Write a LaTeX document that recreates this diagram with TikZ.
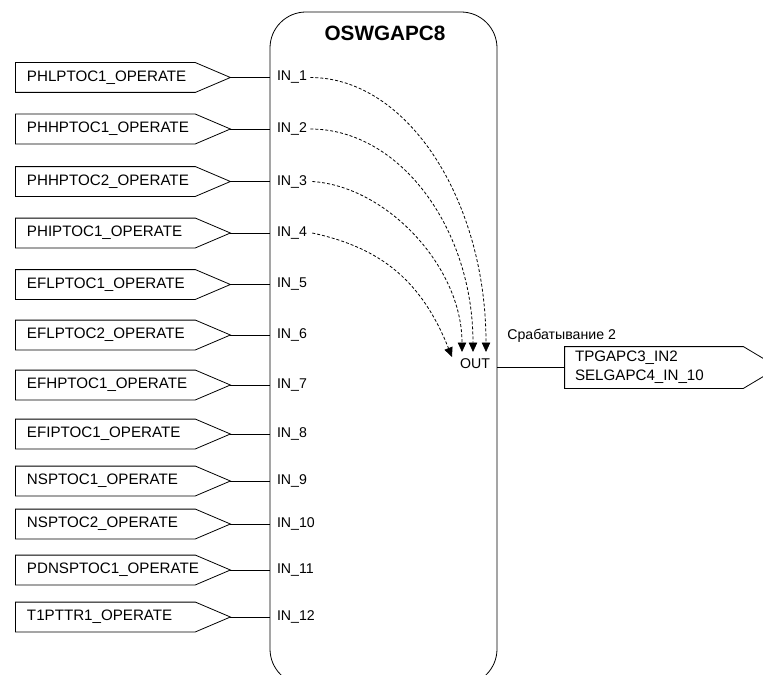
\documentclass[tikz,border=0pt]{standalone}
\usepackage{fontspec}
\setmainfont{Liberation Sans}
\usetikzlibrary{arrows.meta,calc}
\begin{document}
\begin{tikzpicture}[x=1bp,y=-1bp,line width=0.8bp,
  txt/.style={font=\fontsize{14.2}{16}\selectfont},
  boxtxt/.style={font=\fontsize{15.2}{17}\selectfont},
  inbox/.style={boxtxt,minimum width=179bp,minimum height=29bp,inner xsep=11bp,inner ysep=0pt,
    text width=157bp,align=left},
  outbox/.style={font=\fontsize{15.2}{19}\selectfont,minimum width=178bp,minimum height=41bp,
    inner xsep=10bp,inner ysep=0pt,text width=158bp,align=left},
  pinlabel/.style={txt,inner sep=0pt,anchor=west},
  flow/.style={dash pattern=on 3bp off 2bp,-{Triangle[length=9.5bp,width=8.5bp]}},
  fblock/.style={draw,rounded corners=36bp,minimum width=227bp,minimum height=673bp,inner sep=0pt}]
\clip (0,0) rectangle (763,675);

% function block
\node[fblock] (blk) at (383.5,348.5) {};
\node[font=\fontsize{20.8}{24}\selectfont\bfseries] (title) at (385,33) {OSWGAPC8};

% input signals
\foreach \i/\y/\t in {1/77.5/PHLPTOC1\_OPERATE,2/129/PHHPTOC1\_OPERATE,3/181.5/PHHPTOC2\_OPERATE,
  4/233/PHIPTOC1\_OPERATE,5/284.5/EFLPTOC1\_OPERATE,6/335/EFLPTOC2\_OPERATE,
  7/385/EFHPTOC1\_OPERATE,8/434/EFIPTOC1\_OPERATE,9/481/NSPTOC1\_OPERATE,
  10/524/NSPTOC2\_OPERATE,11/570/PDNSPTOC1\_OPERATE,12/617/T1PTTR1\_OPERATE}{
  \node[inbox] (b\i) at (105.5,\y) {\t};
  \coordinate (t\i) at ($(b\i.east)+(35,0)$);
  \draw (b\i.north west) -- (b\i.north east) -- (t\i) -- (b\i.south east) -- (b\i.south west) -- cycle;
  \draw (t\i) -- (t\i -| blk.west);
  \node[pinlabel] (in\i) at ($(blk.west |- t\i)+(7,0)$) {IN\_\i};
}

% output pin and its target
\node[txt,inner sep=0pt] (out) at (475,363.5) {OUT};
\node[outbox] (ob) at (654,367.5) {TPGAPC3\_IN2\\SELGAPC4\_IN\_10};
\coordinate (ot) at ($(ob.east)+(35,0)$);
\draw (ob.north west) -- (ob.north east) -- (ot) -- (ob.south east) -- (ob.south west) -- cycle;
\draw (blk.east |- ob) -- (ob.west);
\node[txt,inner sep=0pt,anchor=west] (sig) at (507,336) {Срабатывание 2};

% internal OR connections
\coordinate (o1) at (486,352);
\coordinate (o2) at (473,352);
\coordinate (o3) at (462,352);
\coordinate (o4) at (452,357);
\draw[flow] ([xshift=3bp]in1.east) .. controls +(97,0) and +(0,-152) .. (o1);
\draw[flow] ([xshift=3bp]in2.east) .. controls +(90,0) and +(0,-123) .. (o2);
\draw[flow] ([xshift=5bp]in3.east) .. controls +(75,5) and +(0,-85) .. (o3);
\draw[flow] ([xshift=5bp]in4.east) .. controls +(70,15) and +(-30,-75) .. (o4);
\end{tikzpicture}
\end{document}
